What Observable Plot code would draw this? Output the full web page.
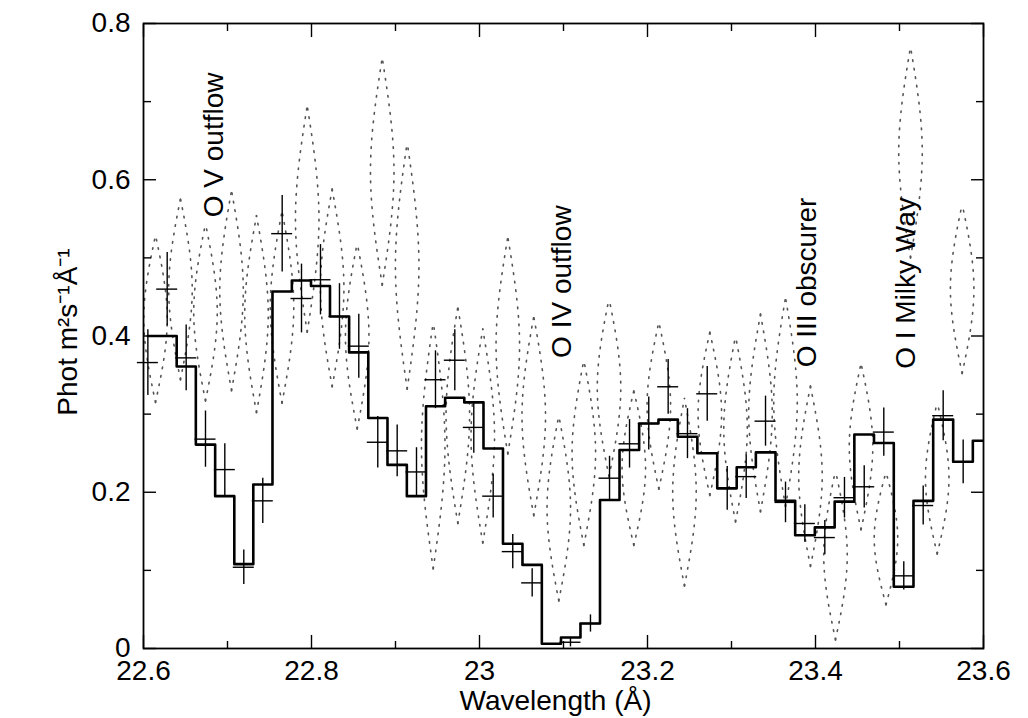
<!DOCTYPE html>
<html><head><meta charset="utf-8">
<script src="https://cdn.jsdelivr.net/npm/d3@7"></script>
<script src="https://cdn.jsdelivr.net/npm/@observablehq/plot@0.6"></script>
<style>body{margin:0;background:#fff}</style>
</head><body><div id="chart"></div>
<script>
// Bin centres (Å) and fitted model (step histogram)
const binWavelength = [22.6052, 22.6282, 22.6508, 22.6738, 22.6968, 22.7194, 22.7420, 22.7651, 22.7881, 22.8107, 22.8333, 22.8563, 22.8789, 22.9020, 22.9250, 22.9476, 22.9706, 22.9932, 23.0163, 23.0396, 23.0627, 23.0857, 23.1083, 23.1321, 23.1548, 23.1786, 23.2015, 23.2246, 23.2476, 23.2711, 23.2949, 23.3175, 23.3405, 23.3643, 23.3873, 23.4111, 23.4345, 23.4580, 23.4813, 23.5051, 23.5282, 23.5520, 23.5758, 23.5988];
const modelFlux = [0.400, 0.400, 0.361, 0.261, 0.195, 0.108, 0.210, 0.457, 0.471, 0.464, 0.425, 0.379, 0.295, 0.235, 0.195, 0.310, 0.321, 0.315, 0.256, 0.134, 0.107, 0.006, 0.014, 0.032, 0.190, 0.254, 0.288, 0.293, 0.271, 0.250, 0.205, 0.232, 0.251, 0.189, 0.145, 0.155, 0.188, 0.274, 0.263, 0.079, 0.189, 0.293, 0.239, 0.266];
// Observed data with 1-sigma errors (null = not shown)
const obsFlux = [0.366, 0.460, 0.372, 0.268, 0.229, 0.104, 0.189, 0.531, 0.448, 0.472, 0.425, 0.387, 0.264, 0.253, 0.226, 0.344, 0.369, 0.283, 0.195, 0.124, 0.084, null, 0.008, 0.032, 0.218, 0.262, 0.288, 0.335, 0.275, 0.326, 0.205, 0.220, 0.291, 0.187, 0.160, 0.142, 0.193, 0.207, 0.277, 0.093, 0.183, 0.298, 0.239, null];
const obsErr = [0.042, 0.047, 0.042, 0.036, 0.033, 0.022, 0.029, 0.049, 0.044, 0.045, 0.042, 0.041, 0.033, 0.033, 0.031, 0.037, 0.039, 0.033, 0.028, 0.022, 0.018, null, 0.006, 0.011, 0.028, 0.031, 0.034, 0.035, 0.032, 0.035, 0.028, 0.028, 0.032, 0.026, 0.024, 0.022, 0.026, 0.027, 0.031, 0.018, 0.025, 0.032, 0.028, null];
// Dotted lens-shaped curves
const lensWavelength = [22.6143, 22.6440, 22.6738, 22.7048, 22.7345, 22.7649, 22.7949, 22.8246, 22.8544, 22.8842, 22.9139, 22.9449, 22.9742, 23.0039, 23.0337, 23.0646, 23.0944, 23.1242, 23.1542, 23.1837, 23.2135, 23.2440, 23.2742, 23.3048, 23.3345, 23.3643, 23.3940, 23.4238, 23.4542, 23.4839, 23.5131, 23.5449, 23.5746];
const lensTop = [0.529, 0.576, 0.544, 0.586, 0.554, 0.560, 0.695, 0.588, 0.519, 0.756, 0.648, 0.418, 0.437, 0.409, 0.527, 0.425, 0.298, 0.369, 0.448, 0.330, 0.418, 0.320, 0.405, 0.400, 0.428, 0.449, 0.336, 0.228, 0.365, 0.226, 0.770, 0.315, 0.569];
const lensBottom = [0.315, 0.344, 0.317, 0.330, 0.302, 0.314, 0.405, 0.335, 0.281, 0.465, 0.332, 0.102, 0.160, 0.135, 0.249, 0.170, 0.061, 0.132, 0.220, 0.132, 0.204, 0.080, 0.196, 0.162, 0.175, 0.182, 0.105, 0.011, 0.152, 0.056, 0.500, 0.121, 0.352];
// Line identifications
const labelText = ["O V outflow", "O IV outflow", "O III obscurer", "O I Milky Way"];
const labelWavelength = [22.6949, 23.1095, 23.4000, 23.5190];
const labelFlux = [0.552, 0.372, 0.360, 0.358];
// Ticks
const xMajorTicks = [22.6, 22.8, 23, 23.2, 23.4, 23.6];
const xMinorTicks = [22.7, 22.9, 23.1, 23.3, 23.5];
const yMajorTicks = [0, 0.2, 0.4, 0.6, 0.8];
const yMinorTicks = [0.1, 0.3, 0.5, 0.7];
const xTitle = "Wavelength (Å)";
const yTitle = "Phot m²s⁻¹Å⁻¹";

// Build tables
const bins = binWavelength.map((x, i) => ({x, model: modelFlux[i], obs: obsFlux[i], err: obsErr[i]}));
const points = bins.filter(d => d.obs != null);
const binHalf = 0.0125;
const lensHalf = 0.014;
const arcs = [];
lensWavelength.forEach((c, i) => {
  const t = lensTop[i], b = lensBottom[i], m = (t + b) / 2;
  [-1, 1].forEach((s, k) => {
    const id = i * 2 + k;
    arcs.push({id, x: c, y: b}, {id, x: c + s * lensHalf, y: m}, {id, x: c, y: t});
  });
});
const labels = labelText.map((t, i) => ({t, x: labelWavelength[i], y: labelFlux[i]}));
const fmt = d => String(d);
const blank = () => "";

const chart = Plot.plot({
  width: 1028, height: 718,
  marginLeft: 143, marginRight: 45, marginTop: 23, marginBottom: 70,
  x: {domain: [22.6, 23.6]},
  y: {domain: [0, 0.8]},
  style: {fontFamily: "'Liberation Sans', Arial, sans-serif", fontSize: "28px", background: "white", color: "black"},
  marks: [
    Plot.line(arcs, {x: "x", y: "y", z: "id", curve: "natural", stroke: "#555", strokeWidth: 1.6, strokeDasharray: "1.6,7", clip: true}),
    Plot.line(bins, {x: "x", y: "model", curve: "step", stroke: "black", strokeWidth: 2.6, clip: true}),
    Plot.ruleX(points, {x: "x", y1: d => d.obs - d.err, y2: d => d.obs + d.err, stroke: "black", strokeWidth: 1.4}),
    Plot.ruleY(points, {y: "obs", x1: d => d.x - binHalf, x2: d => d.x + binHalf, stroke: "black", strokeWidth: 1.4}),
    Plot.text(labels, {x: "x", y: "y", text: "t", rotate: -90, textAnchor: "start", lineAnchor: "bottom", fontSize: 28, fill: "black"}),
    Plot.axisX(xMajorTicks, {anchor: "bottom", tickSize: -13, tickPadding: 25, tickFormat: fmt, label: null, strokeWidth: 1.4}),
    Plot.axisX(xMinorTicks, {anchor: "bottom", tickSize: -7, tickFormat: blank, label: null, strokeWidth: 1.4}),
    Plot.axisX(xMajorTicks, {anchor: "top", tickSize: -13, tickFormat: blank, label: null, strokeWidth: 1.4}),
    Plot.axisX(xMinorTicks, {anchor: "top", tickSize: -7, tickFormat: blank, label: null, strokeWidth: 1.4}),
    Plot.axisY(yMajorTicks, {anchor: "left", tickSize: -13, tickPadding: 26, tickFormat: fmt, label: null, strokeWidth: 1.4}),
    Plot.axisY(yMinorTicks, {anchor: "left", tickSize: -8, tickFormat: blank, label: null, strokeWidth: 1.4}),
    Plot.axisY(yMajorTicks, {anchor: "right", tickSize: -13, tickFormat: blank, label: null, strokeWidth: 1.4}),
    Plot.axisY(yMinorTicks, {anchor: "right", tickSize: -8, tickFormat: blank, label: null, strokeWidth: 1.4}),
    Plot.frame({stroke: "black", strokeWidth: 1.8}),
    Plot.text([xTitle], {frameAnchor: "bottom", dx: -8, dy: 53, lineAnchor: "middle", textAnchor: "middle", fill: "black"}),
    Plot.text([yTitle], {frameAnchor: "left", rotate: -90, dx: -75, dy: -4, lineAnchor: "middle", textAnchor: "middle", fill: "black"})
  ]
});
document.getElementById("chart").appendChild(chart);
</script>
</body></html>
